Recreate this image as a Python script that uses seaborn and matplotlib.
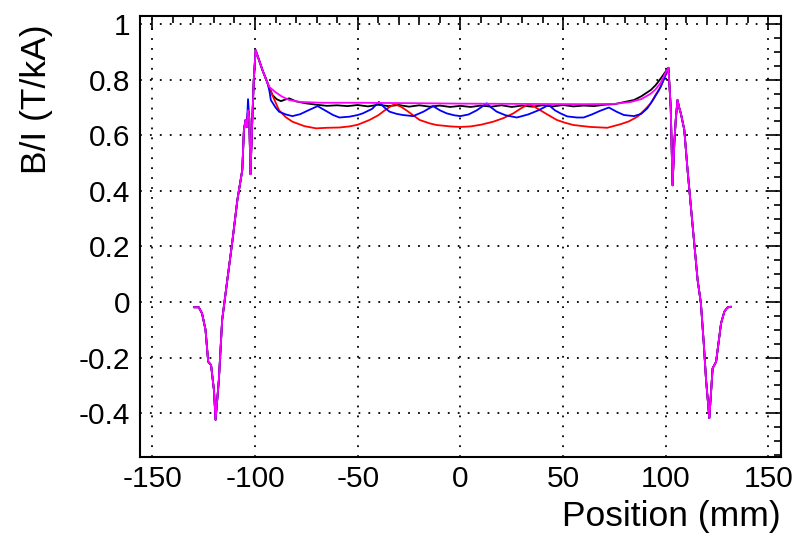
import numpy as np
import pandas as pd
import matplotlib
matplotlib.use("Agg")
import matplotlib.pyplot as plt
import seaborn as sns
from matplotlib.ticker import MultipleLocator

# ---------------- data ----------------
# shared outer edges (all four curves coincide there)
left_x = [-129.8, -127.4, -125.8, -124.1, -122.8, -121.4, -120.0, -119.2, -117.6,
          -116.0, -113.5, -111.0, -108.6, -106.2, -105.4]
left_y = [-0.019, -0.019, -0.041, -0.10, -0.215, -0.227, -0.317, -0.424, -0.28,
          -0.065, 0.079, 0.22, 0.367, 0.475, 0.62]

spike_x = [-104.6, -104.0, -103.4, -102.8, -102.2, -101.5, -100.6, -99.7, -98.0, -96.4, -94.0]
spike_y = [0.655, 0.63, 0.69, 0.66, 0.46, 0.62, 0.80, 0.906, 0.87, 0.835, 0.79]
spike_y_blue = [0.655, 0.63, 0.73, 0.66, 0.46, 0.62, 0.80, 0.906, 0.87, 0.835, 0.79]

right_x = [102.4, 103.3, 104.2, 104.9, 105.7, 106.5, 107.3, 109.0, 110.6, 113.0, 115.5,
           117.1, 118.5, 119.6, 121.2, 122.8, 124.5, 126.9, 128.5, 130.0, 131.8]
right_y = [0.70, 0.42, 0.58, 0.66, 0.727, 0.70, 0.68, 0.62, 0.475, 0.28, 0.079,
           -0.005, -0.15, -0.28, -0.418, -0.239, -0.215, -0.077, -0.035, -0.02, -0.017]

# central parts, one per series
black_x = [-91.5, -89.5, -87.4, -85.5, -83.4, -80, -75.2, -70, -65, -60, -55, -50, -45, -40,
           -35, -30, -25, -20, -15, -10, -5, 0, 5, 10, 15, 20, 25, 30, 35, 40, 45, 50, 55,
           60, 65, 70, 75, 80, 84.5, 88, 92.7, 95, 97.6, 99.5, 101.3]
black_y = [0.745, 0.73, 0.723, 0.728, 0.733, 0.722, 0.715, 0.71, 0.706, 0.708, 0.705, 0.709,
           0.704, 0.71, 0.705, 0.709, 0.703, 0.708, 0.703, 0.707, 0.702, 0.706, 0.702, 0.707,
           0.703, 0.708, 0.702, 0.707, 0.703, 0.708, 0.704, 0.709, 0.704, 0.707, 0.705, 0.71,
           0.712, 0.72, 0.727, 0.74, 0.763, 0.78, 0.805, 0.825, 0.843]

red_x = [-93, -91, -88.3, -85, -81.8, -76, -70.3, -65, -58.9, -54, -50, -44.3, -40, -37.7,
         -34.5, -32, -29, -26.3, -23, -19.8, -15, -11.6, -5, 0, 5, 10, 16, 21, 25.8, 29.5,
         33.2, 36, 38.9, 43, 47, 51, 55, 63.3, 71.5, 78, 82, 86.2, 89.5, 92.7, 95, 97.6,
         99.5, 101.3]
red_y = [0.77, 0.735, 0.69, 0.665, 0.649, 0.633, 0.625, 0.627, 0.628, 0.632, 0.638, 0.655,
         0.672, 0.685, 0.702, 0.712, 0.703, 0.69, 0.672, 0.655, 0.643, 0.637, 0.632, 0.63,
         0.632, 0.638, 0.649, 0.662, 0.679, 0.697, 0.712, 0.703, 0.69, 0.672, 0.655, 0.645,
         0.637, 0.63, 0.627, 0.64, 0.65, 0.667, 0.69, 0.715, 0.745, 0.775, 0.81, 0.843]

blue_x = [-93, -92.3, -90, -88.3, -85, -81.8, -78, -74, -69.5, -66, -62, -58.9, -54, -50,
          -47.5, -43, -39.7, -37, -34.5, -31, -28, -23, -18, -13.3, -10, -6.7, -3, 0, 4, 8,
          12.8, 15, 17.7, 22, 27.5, 33, 38, 43, 46, 48.7, 52, 56.8, 60, 64, 68, 72.3, 76,
          79.6, 84.5, 88, 91, 94, 96.7, 99, 101.3]
blue_y = [0.76, 0.727, 0.70, 0.685, 0.675, 0.669, 0.676, 0.69, 0.705, 0.69, 0.673, 0.664,
          0.667, 0.673, 0.679, 0.695, 0.72, 0.70, 0.685, 0.677, 0.673, 0.669, 0.685, 0.705,
          0.69, 0.679, 0.672, 0.669, 0.675, 0.69, 0.715, 0.70, 0.685, 0.672, 0.664, 0.675,
          0.69, 0.709, 0.69, 0.679, 0.668, 0.664, 0.664, 0.675, 0.688, 0.70, 0.685, 0.673,
          0.669, 0.677, 0.697, 0.73, 0.763, 0.80, 0.843]

magenta_x = [-93.2, -90, -87, -83.4, -78, -67, -50, -30, 0, 30, 60, 75, 83, 88, 92.7, 95,
             97.6, 99.5, 101.3]
magenta_y = [0.775, 0.755, 0.74, 0.727, 0.72, 0.717, 0.717, 0.716, 0.714, 0.713, 0.712,
             0.713, 0.72, 0.73, 0.75, 0.765, 0.79, 0.82, 0.843]

series_names = ["black", "red", "blue", "magenta"]
series_colors = {"black": "#000000", "red": "#ff0000", "blue": "#0000ff", "magenta": "#ff00ff"}

def build(name, mid_x, mid_y, sp_y):
    x = left_x + spike_x + mid_x + right_x
    y = left_y + sp_y + mid_y + right_y
    return pd.DataFrame({"pos": x, "bi": y, "series": name})

df = pd.concat([
    build("black", black_x, black_y, spike_y),
    build("red", red_x, red_y, spike_y),
    build("blue", blue_x, blue_y, spike_y_blue),
    build("magenta", magenta_x, magenta_y, spike_y),
], ignore_index=True)

# ---------------- figure ----------------
sns.set_style("white")
plt.rcParams["font.family"] = ["Liberation Sans", "DejaVu Sans"]
plt.rcParams["axes.unicode_minus"] = False
plt.rcParams["text.color"] = "black"
plt.rcParams["axes.labelcolor"] = "black"
plt.rcParams["xtick.color"] = "black"
plt.rcParams["ytick.color"] = "black"

fig = plt.figure(figsize=(8.0, 5.37), dpi=100)
ax = fig.add_axes([0.175, 0.149, 0.801, 0.821])

for name in series_names:
    sub = df[df["series"] == name]
    sns.lineplot(data=sub, x="pos", y="bi", color=series_colors[name], lw=1.3,
                 sort=False, estimator=None, ax=ax, legend=False)

ax.set_xlim(-156, 156)
ax.set_ylim(-0.558, 1.029)

ax.xaxis.set_major_locator(MultipleLocator(50))
ax.xaxis.set_minor_locator(MultipleLocator(10))
ax.yaxis.set_major_locator(MultipleLocator(0.2))
ax.yaxis.set_minor_locator(MultipleLocator(0.05))
ax.yaxis.set_major_formatter(plt.FuncFormatter(lambda v, p: "%g" % round(v, 3)))
ax.xaxis.set_major_formatter(plt.FuncFormatter(lambda v, p: "%g" % round(v, 3)))

ax.tick_params(which="both", direction="in", top=True, right=True, colors="black",
               labelcolor="black", width=1.2)
ax.tick_params(which="major", length=10, labelsize=21.5, pad=7)
ax.tick_params(which="minor", length=5)
ax.tick_params(axis="x", which="major", pad=6)

for s in ax.spines.values():
    s.set_visible(True)
    s.set_color("black")
    s.set_linewidth(1.5)

ax.grid(True, which="major", color="black", linestyle=(0, (1, 4.5)), linewidth=1.3)
ax.set_axisbelow(True)

ax.set_xlabel("Position (mm)", fontsize=25.5, loc="right", color="black")
ax.xaxis.set_label_coords(1.0, -0.136)
ax.xaxis.label.set_va("center")
ax.set_ylabel("B/I (T/kA)", fontsize=25.5, loc="top", color="black")
ax.yaxis.set_label_coords(-0.161, 0.982)
ax.yaxis.label.set_va("center")

fig.savefig("out.png", dpi=100)
